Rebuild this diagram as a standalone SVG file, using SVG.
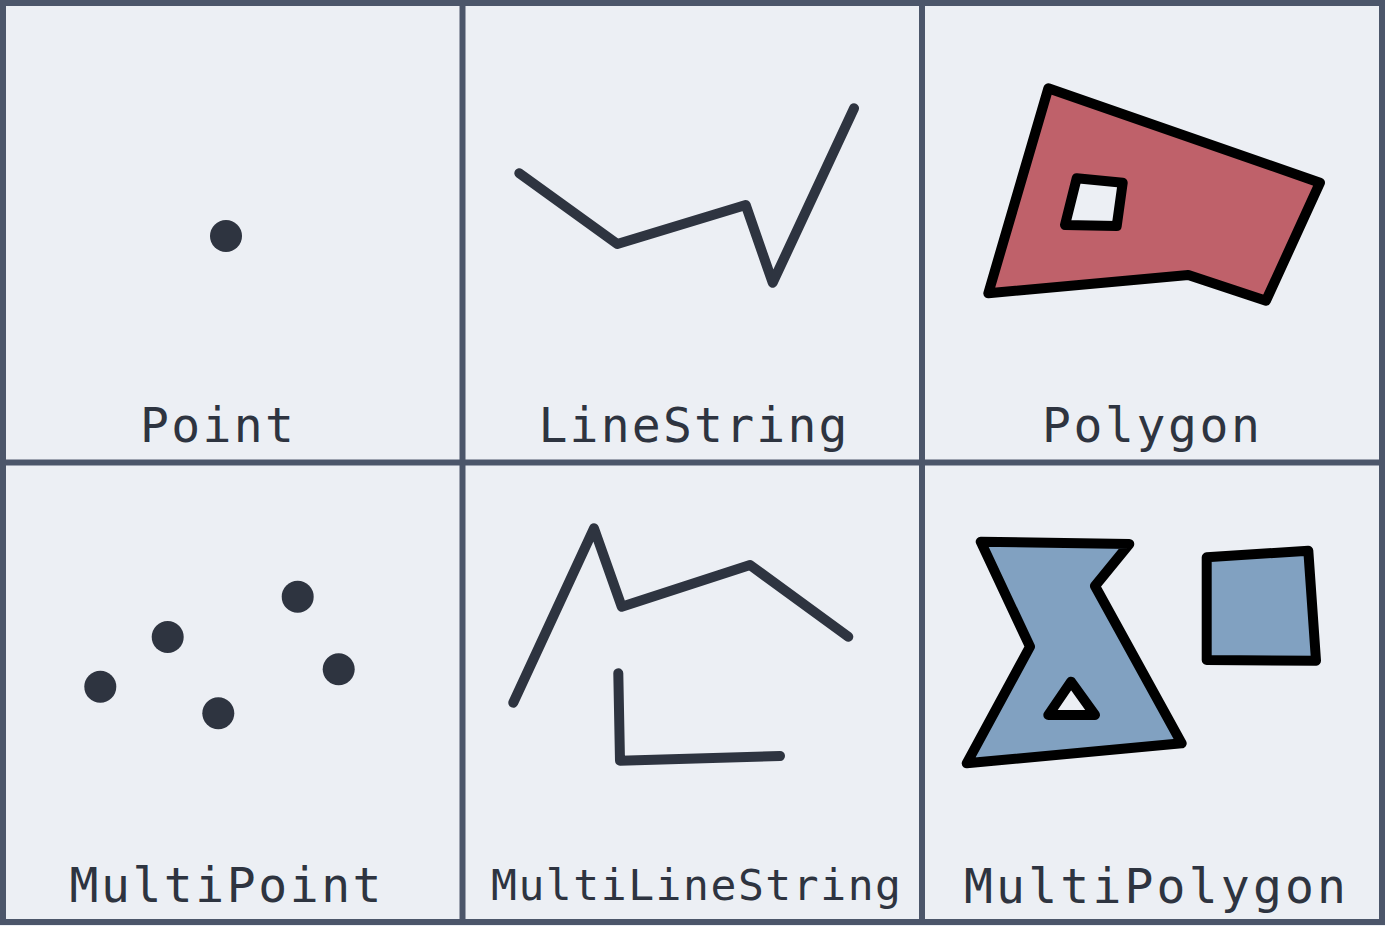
<svg xmlns="http://www.w3.org/2000/svg" width="1385" height="926" viewBox="0 0 1385 926">
<style>
.bg{fill:#eceff4}
.grid{fill:none;stroke:#4c566a;stroke-width:6}
.lbl{font-family:"DejaVu Sans Mono","Liberation Mono",monospace;fill:#2e3440;font-size:48px}
.pt{fill:#2e3440}
.ln{fill:none;stroke:#2e3440;stroke-width:10;stroke-linecap:round;stroke-linejoin:round}
.poly{stroke:#000;stroke-width:10;stroke-linejoin:round;fill-rule:evenodd}
.red{fill:#bf616a}
.blue{fill:#81a1c1}
</style>
<rect class="bg" x="0" y="0" width="1385" height="926"/>
<g id="connectors">
<rect class="grid" x="3" y="3" width="1379" height="919"/>
<line class="grid" x1="462.5" y1="3" x2="462.5" y2="922"/>
<line class="grid" x1="922" y1="3" x2="922" y2="922"/>
<line class="grid" x1="3" y1="462.5" x2="1382" y2="462.5"/>
</g>
<g id="point">
<circle class="pt" cx="226" cy="236" r="16"/>
<text class="lbl" x="140" y="441.7" textLength="154" lengthAdjust="spacing">Point</text>
</g>
<g id="linestring">
<polyline class="ln" points="519.3,173.3 617.3,244 745.7,205 772.7,282.7 854,108.3"/>
<text class="lbl" x="538.5" y="441.7" textLength="309" lengthAdjust="spacing">LineString</text>
</g>
<g id="polygon">
<path class="poly red" d="M1048.3,88.3 L1320,182.7 L1266,300.7 L1188.3,275 L988.3,293.3 Z M1076.7,178.3 L1122.7,182.7 L1116.7,226 L1065,225 Z"/>
<text class="lbl" x="1042" y="441.7" textLength="218" lengthAdjust="spacing">Polygon</text>
</g>
<g id="multipoint">
<circle class="pt" cx="297.7" cy="596.7" r="16"/>
<circle class="pt" cx="167.7" cy="637" r="16"/>
<circle class="pt" cx="100.3" cy="686.7" r="16"/>
<circle class="pt" cx="218.3" cy="713.3" r="16"/>
<circle class="pt" cx="338.7" cy="669.3" r="16"/>
<text class="lbl" x="69.5" y="901.7" textLength="312" lengthAdjust="spacing">MultiPoint</text>
</g>
<g id="multilinestring">
<polyline class="ln" points="513.3,702.7 594,528.3 621.7,606.7 750,565 848.3,636.7"/>
<polyline class="ln" points="618.3,673.3 620,760.7 780,756"/>
<text class="lbl" x="491" y="900" style="font-size:43px" textLength="410" lengthAdjust="spacing">MultiLineString</text>
</g>
<g id="multipolygon">
<path class="poly blue" d="M980.7,541.7 L1129.3,544 L1095,586 L1181.7,743.3 L966.7,763.3 L1030,646.7 Z M1071,681.7 L1095,715 L1048.3,715 Z"/>
<path class="poly blue" d="M1206.7,557.3 L1308.3,550.7 L1316,660.7 L1206.7,660 Z"/>
<text class="lbl" x="964" y="902.7" textLength="382" lengthAdjust="spacing">MultiPolygon</text>
</g>
</svg>
